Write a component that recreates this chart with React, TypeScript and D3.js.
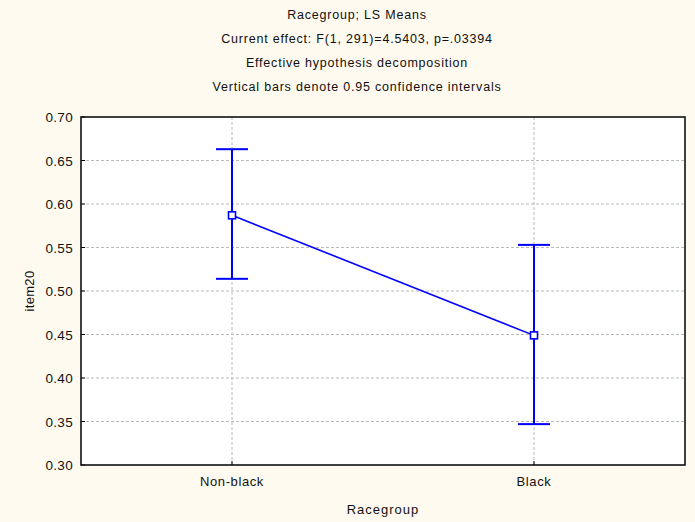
import React from "react";
import * as d3 from "d3";

const categories = ["Non-black", "Black"];
const means = [0.587, 0.449];
const upper = [0.663, 0.553];
const lower = [0.514, 0.347];
const yTicks = [0.3, 0.35, 0.4, 0.45, 0.5, 0.55, 0.6, 0.65, 0.7];
const titles = [
  "Racegroup; LS Means",
  "Current effect: F(1, 291)=4.5403, p=.03394",
  "Effective hypothesis decomposition",
  "Vertical bars denote 0.95 confidence intervals",
];

const W = 695;
const H = 522;
const L = 81, R = 685, T = 117, B = 465;

export default function App() {
  const x = d3.scalePoint<string>().domain(categories).range([L, R]).padding(0.5);
  const y = d3.scaleLinear().domain([0.3, 0.7]).range([B, T]);
  const line = d3
    .line<number>()
    .x((_, i) => x(categories[i]) as number)
    .y((d) => y(d));
  const font = "Liberation Sans, Arial, sans-serif";
  const blue = "#0000ff";
  return (
    <svg
      width={W}
      height={H}
      style={{ position: "absolute", left: 0, top: 0, display: "block" }}
      fontFamily={font}
    >
      <rect x={0} y={0} width={W} height={H} fill="#fffaf0" />
      {titles.map((t, i) => (
        <text key={i} x={357} y={19 + i * 24} textAnchor="middle" fontSize={12.5} letterSpacing={0.8} fill="#111">
          {t}
        </text>
      ))}
      <rect x={L} y={T} width={R - L} height={B - T} fill="#ffffff" />
      {yTicks.slice(1, -1).map((v) => (
        <line key={v} x1={L} x2={R} y1={y(v)} y2={y(v)} stroke="#b8b8b8" strokeWidth={1} strokeDasharray="3,2" />
      ))}
      {categories.map((c) => (
        <line key={c} x1={x(c)} x2={x(c)} y1={T} y2={B} stroke="#b8b8b8" strokeWidth={1} strokeDasharray="3,2" />
      ))}
      {yTicks.map((v) => (
        <g key={v}>
          <line x1={L} x2={L + 4} y1={y(v)} y2={y(v)} stroke="#000" strokeWidth={1} />
          <text x={L - 8} y={y(v) + 5} textAnchor="end" fontSize={13.5} letterSpacing={0.3} fill="#111">
            {v.toFixed(2)}
          </text>
        </g>
      ))}
      {categories.map((c) => (
        <g key={c}>
          <line x1={x(c)} x2={x(c)} y1={B} y2={B - 4} stroke="#000" strokeWidth={1} />
          <text x={x(c)} y={B + 21} textAnchor="middle" fontSize={13} letterSpacing={0.6} fill="#111">
            {c}
          </text>
        </g>
      ))}
      <rect x={L} y={T} width={R - L} height={B - T} fill="none" stroke="#111" strokeWidth={1.6} />
      <text x={(L + R) / 2} y={B + 49} textAnchor="middle" fontSize={13} letterSpacing={1} fill="#111">
        Racegroup
      </text>
      <text
        transform={`translate(${34},${(T + B) / 2}) rotate(-90)`}
        textAnchor="middle"
        fontSize={13}
        letterSpacing={0.3}
        fill="#111"
      >
        item20
      </text>
      {categories.map((c, i) => {
        const cx = x(c) as number;
        return (
          <g key={c} stroke={blue} strokeWidth={2}>
            <line x1={cx} x2={cx} y1={y(upper[i])} y2={y(lower[i])} />
            <line x1={cx - 16} x2={cx + 16} y1={y(upper[i])} y2={y(upper[i])} />
            <line x1={cx - 16} x2={cx + 16} y1={y(lower[i])} y2={y(lower[i])} />
          </g>
        );
      })}
      <path d={line(means) as string} fill="none" stroke={blue} strokeWidth={1.6} />
      {categories.map((c, i) => (
        <rect
          key={c}
          x={(x(c) as number) - 3.5}
          y={y(means[i]) - 3.5}
          width={7}
          height={7}
          fill="#fff"
          stroke={blue}
          strokeWidth={1.6}
        />
      ))}
    </svg>
  );
}
